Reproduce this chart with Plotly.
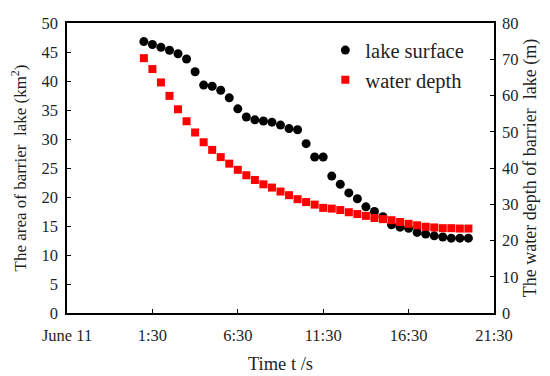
import plotly.graph_objects as go

# time of each observation, hours after 0:00 on June 11
hours = [1.0, 1.5, 2.0, 2.5, 3.0, 3.5, 4.0, 4.5, 5.0, 5.5,
         6.0, 6.5, 7.0, 7.5, 8.0, 8.5, 9.0, 9.5, 10.0, 10.5,
         11.0, 11.5, 12.0, 12.5, 13.0, 13.5, 14.0, 14.5, 15.0, 15.5,
         16.0, 16.5, 17.0, 17.5, 18.0, 18.5, 19.0, 19.5, 20.0]

# lake surface area (km^2), left axis
lake_surface = [46.8, 46.3, 45.8, 45.3, 44.7, 43.8, 41.6, 39.3, 39.1, 38.4,
                37.1, 35.2, 33.8, 33.3, 33.1, 32.9, 32.4, 31.8, 31.6, 29.2,
                26.9, 26.9, 23.6, 22.2, 20.7, 19.7, 18.3, 17.5, 16.6, 15.2,
                14.8, 14.6, 13.9, 13.6, 13.3, 13.1, 12.9, 12.9, 12.9]

# water depth (m), right axis
water_depth = [70.3, 67.3, 63.6, 59.9, 56.2, 52.9, 49.8, 47.1, 45.0, 43.0,
               41.2, 39.5, 38.0, 36.7, 35.5, 34.6, 33.5, 32.5, 31.4, 30.6,
               29.9, 29.0, 28.8, 28.4, 27.8, 27.3, 26.8, 26.2, 25.9, 25.6,
               25.1, 24.6, 24.2, 23.8, 23.6, 23.4, 23.4, 23.3, 23.3]

x_tick_vals = [-3.5, 1.5, 6.5, 11.5, 16.5, 21.5]
x_tick_text = ["June 11", "1:30", "6:30", "11:30", "16:30", "21:30"]

FONT = "Liberation Serif, Times New Roman, serif"
TXT = "#1f1f1f"

fig = go.Figure()
fig.add_trace(go.Scatter(
    x=hours, y=lake_surface, mode="markers", name="lake surface",
    marker=dict(symbol="circle", size=9, color="black"),
    yaxis="y"))
fig.add_trace(go.Scatter(
    x=hours, y=water_depth, mode="markers", name="water depth",
    marker=dict(symbol="square", size=8, color="#ff0000"),
    yaxis="y2"))

axis_common = dict(showgrid=False, zeroline=False, showline=True,
                   linecolor="black", linewidth=1.5, ticks="inside",
                   ticklen=4, tickcolor="black", automargin=False,
                   tickfont=dict(family=FONT, size=16.5, color=TXT))

fig.update_layout(
    width=550, height=376,
    margin=dict(l=59, r=64, t=15, b=71),
    paper_bgcolor="white", plot_bgcolor="white",
    font=dict(family=FONT, color=TXT),
    showlegend=True,
    legend=dict(x=0.605, y=0.975, xanchor="left", yanchor="top",
                bgcolor="rgba(0,0,0,0)",
                font=dict(family=FONT, size=20.5, color=TXT),
                itemwidth=30, tracegroupgap=4),
    xaxis=dict(range=[-3.5, 21.5], tickmode="array",
               tickvals=x_tick_vals, ticktext=x_tick_text,
               mirror=True, ticklabelstandoff=6,
               title=dict(text="Time t /s", font=dict(family=FONT, size=18.5, color=TXT),
                          standoff=14),
               **axis_common),
    yaxis=dict(range=[0, 50], dtick=5, tick0=0, ticklabelstandoff=4,
               title=dict(text="The area of barrier  lake (km<sup>2</sup>)",
                          font=dict(family=FONT, size=17, color=TXT), standoff=12),
               **axis_common),
    yaxis2=dict(range=[0, 80], dtick=10, tick0=0, overlaying="y", side="right",
                ticklabelstandoff=3,
                title=dict(text="The water depth of barrier  lake (m)",
                           font=dict(family=FONT, size=18, color=TXT), standoff=6),
                **axis_common),
)

fig.write_html("out.html")
